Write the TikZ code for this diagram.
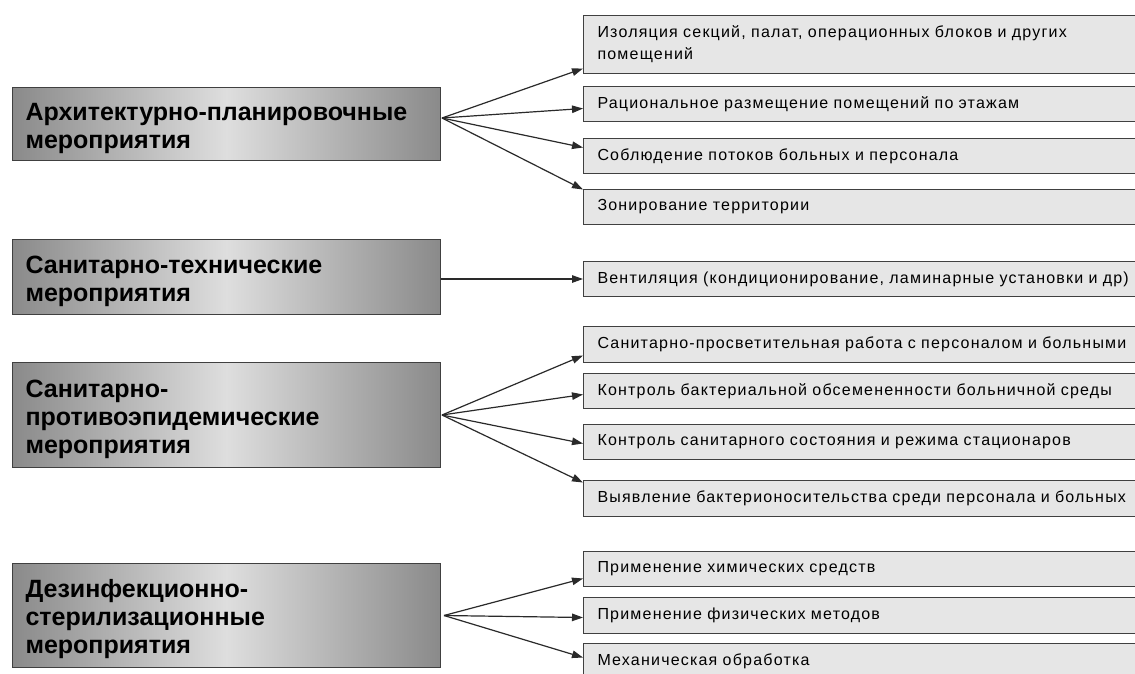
\documentclass[tikz,border=0pt]{standalone}
\usepackage{fontspec}
\setmainfont{Liberation Sans}
\newfontfamily\rfont[LetterSpace=7.5]{Liberation Sans}
\usetikzlibrary{arrows.meta}
\definecolor{edgegray}{HTML}{404040}
\definecolor{boxfill}{HTML}{E6E6E6}
\definecolor{shadedark}{HTML}{8A8A8A}
\definecolor{shadelight}{HTML}{DEDEDE}
\definecolor{linegray}{HTML}{2A2A2A}
\tikzset{
  catbox/.style={draw=edgegray, line width=1pt, left color=shadedark, right color=shadedark, middle color=shadelight,
    anchor=north west, minimum width=428pt, text width=402pt, inner xsep=13pt, inner ysep=0pt, align=left,
    font=\bfseries\fontsize{25}{28}\selectfont, execute at begin node={\rule{0pt}{26pt}}},
  itembox/.style={draw=edgegray, line width=1pt, fill=boxfill, anchor=north west, text width=540pt,
    inner xsep=14pt, inner ysep=0pt, align=left, minimum height=35pt,
    font=\rfont\fontsize{16}{22}\selectfont},
  conn/.style={draw=linegray, line width=1.2pt, -{Triangle[length=11pt,width=7.5pt]}}
}
\begin{document}
\begin{tikzpicture}[x=1pt,y=-1pt]
\useasboundingbox (0,0) rectangle (1135,673);
\clip (0,0) rectangle (1135,673);
\fill[white] (0,0) rectangle (1135,673);
% left categories
\node[catbox, minimum height=73pt] (L1) at (12,87) {Архитектурно-планировочные\\мероприятия};
\node[catbox, minimum height=75pt] (L2) at (12,239) {Санитарно-технические\\мероприятия};
\node[catbox, minimum height=105pt] (L3) at (12,362) {Санитарно-\\противоэпидемические\\мероприятия};
\node[catbox, minimum height=104pt] (L4) at (12,563) {Дезинфекционно-\\стерилизационные\\мероприятия};
% right items
\node[itembox, minimum height=58pt] (R1) at (583,15) {Изоляция секций, палат, операционных блоков и других\\помещений};
\node[itembox] (R2) at (583,86) {Рациональное размещение помещений по этажам};
\node[itembox] (R3) at (583,138) {Соблюдение потоков больных и персонала};
\node[itembox] (R4) at (583,189) {Зонирование территории};
\node[itembox] (R5) at (583,261) {Вентиляция (кондиционирование, ламинарные установки и др)};
\node[itembox, minimum height=36pt] (R6) at (583,326) {Санитарно-просветительная работа с персоналом и больными};
\node[itembox] (R7) at (583,373) {Контроль бактериальной обсемененности больничной среды};
\node[itembox] (R8) at (583,424) {Контроль санитарного состояния и режима стационаров};
\node[itembox, minimum height=36pt] (R9) at (583,480) {Выявление бактерионосительства среди персонала и больных};
\node[itembox] (R10) at (583,551) {Применение химических средств};
\node[itembox, minimum height=36pt] (R11) at (583,597) {Применение физических методов};
\node[itembox, minimum height=36pt] (R12) at (583,643) {Механическая обработка};
% sources
\coordinate (s1) at ([xshift=1pt,yshift=6pt]L1.east);
\coordinate (s3) at ([xshift=1pt]L3.east);
\coordinate (s4) at ([xshift=3pt]L4.east);
% connectors
\draw[conn] (s1) -- ([yshift=-24pt]R1.west);
\draw[conn] (s1) -- ([yshift=-4.5pt]R2.west);
\draw[conn] (s1) -- ([yshift=8.5pt]R3.west);
\draw[conn] (s1) -- ([yshift=17.5pt]R4.west);
\draw[conn] (L2.east |- R5.west) -- (R5.west);
\draw[conn] (s3) -- ([yshift=-11pt]R6.west);
\draw[conn] (s3) -- ([yshift=-3.5pt]R7.west);
\draw[conn] (s3) -- ([yshift=-1.5pt]R8.west);
\draw[conn] (s3) -- ([yshift=16pt]R9.west);
\draw[conn] (s4) -- ([yshift=-9.5pt]R10.west);
\draw[conn] (s4) -- ([yshift=-2pt]R11.west);
\draw[conn] (s4) -- ([yshift=4pt]R12.west);
\end{tikzpicture}
\end{document}
